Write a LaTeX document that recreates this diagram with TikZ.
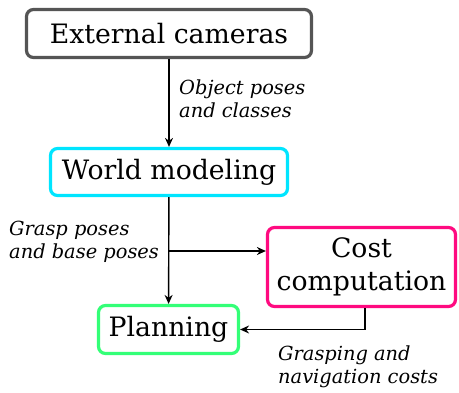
\documentclass[tikz,border=0pt]{standalone}
\usepackage{fontspec}
\setmainfont{DejaVu Serif}
\usetikzlibrary{arrows.meta}
\definecolor{cgrey}{HTML}{555555}
\definecolor{ccyan}{HTML}{00E5FF}
\definecolor{cmag}{HTML}{FF0A80}
\definecolor{cgreen}{HTML}{33FF77}
\tikzset{
  box/.style={draw, line width=3.2pt, rounded corners=7pt, fill=white, align=center, inner sep=0pt, font=\fontsize{26.7}{33}\selectfont},
  lbl/.style={inner sep=0pt, align=left, font=\fontsize{19.4}{23}\selectfont\itshape},
  arr/.style={line width=1.4pt, -{Stealth[length=9pt,width=8pt]}},
}
\begin{document}
\begin{tikzpicture}[x=1pt,y=1pt]
\useasboundingbox (0,0) rectangle (459,-392);
\node[box, draw=cgrey, minimum width=285pt, minimum height=48pt] (ext) at (169,-33.5) {External cameras};
\node[box, draw=ccyan, minimum width=237pt, minimum height=47pt] (world) at (169,-172) {World modeling};
\node[box, draw=cmag, minimum width=188pt, minimum height=79pt] (cost) at (361.5,-267) {Cost\\computation};
\node[box, draw=cgreen, minimum width=140pt, minimum height=48pt] (plan) at (168.5,-329.5) {Planning};
\node[lbl, anchor=west] (l1) at (179,-98.5) {Object poses\\and classes};
\node[lbl, anchor=west] (l2) at (9,-241.5) {Grasp poses\\and base poses};
\node[lbl, anchor=west] (l3) at (278,-366.5) {Grasping and\\navigation costs};
\coordinate (br) at (169,-251);
\draw[arr] (ext) -- (world);
\draw[arr] (world) -- (plan);
\draw[arr] (br) -- (br -| cost.west);
\draw[arr] ([xshift=3.5pt]cost.south) |- (plan.east);
\end{tikzpicture}
\end{document}
